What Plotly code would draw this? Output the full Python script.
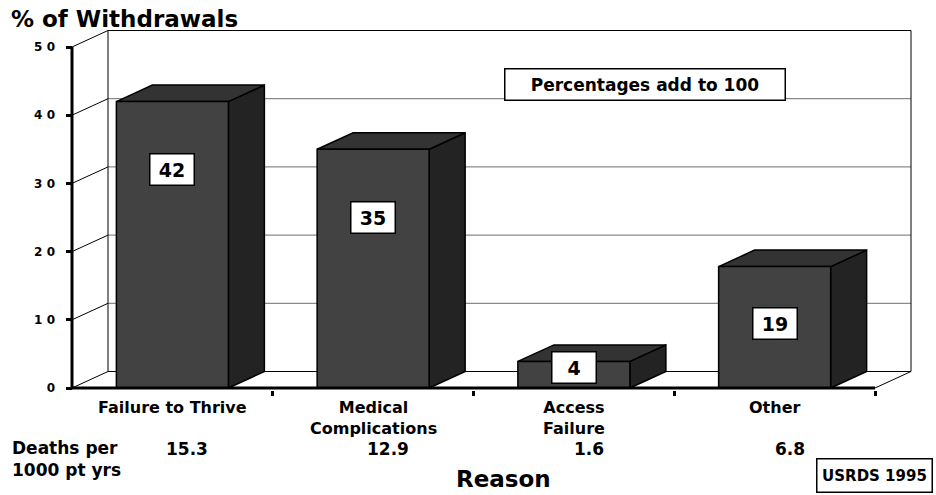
import plotly.graph_objects as go

# ---------------- data ----------------
categories = ["Failure to Thrive", "Medical<br>Complications", "Access<br>Failure", "Other"]
pct_heights = [42, 35, 3.9, 17.8]          # bar heights as drawn
pct_labels = ["42", "35", "4", "19"]        # printed labels
deaths_per_1000 = ["15.3", "12.9", "1.6", "6.8"]
y_tick_vals = [0, 10, 20, 30, 40, 50]
y_tick_text = ["0", "1 0", "2 0", "3 0", "4 0", "5 0"]

# ---------------- geometry ----------------
W, H = 936, 495
L, R, T, B = 66, 915, 29, 390           # plot area in pixels
SX = 200.75                              # px per category
SY = 6.82                                # px per percent unit
X_MIN = -0.5 - 6 / SX
X_MAX = X_MIN + (R - L) / SX
Y_MIN = -2 / SY
Y_MAX = Y_MIN + (B - T) / SY
DX = 36 / SX                             # depth offset (x)
DY = 16.5 / SY                           # depth offset (y)
BW = 112 / SX                            # bar width
N = len(categories)
XF0, XF1 = -0.5, N - 0.5                 # front axis extent
XW0, XW1 = XF0 + DX, XF1 + DX            # back wall extent
YTOP = max(y_tick_vals)

def px(xp):
    return (xp - L) / (R - L)

def py(yp):
    return (B - yp) / (B - T)

FONT = "DejaVu Sans"
BLACK = "#000000"

fig = go.Figure()

def line_trace(xs, ys, color=BLACK, width=1):
    fig.add_trace(go.Scatter(x=xs, y=ys, mode="lines",
                             line=dict(color=color, width=width),
                             hoverinfo="skip", showlegend=False))

# back wall gridlines
gx, gy = [], []
for v in y_tick_vals[1:-1]:
    gx += [XW0, XW1, None]
    gy += [v + DY, v + DY, None]
line_trace(gx, gy, color="#6e6e6e", width=1)

# back wall frame (floor, top, edges) and left diagonals
fx, fy = [], []
for v in (y_tick_vals[0], YTOP):
    fx += [XW0, XW1, None]
    fy += [v + DY, v + DY, None]
fx += [XW0, XW0, None, XW1, XW1, None]
fy += [DY, YTOP + DY, None, DY, YTOP + DY, None]
for v in y_tick_vals:
    fx += [XF0, XW0, None]
    fy += [v, v + DY, None]
fx += [XF1, XW1, None]
fy += [0, DY, None]
line_trace(fx, fy, color=BLACK, width=1)

# 3D bars
FRONT, TOP, SIDE = "#424242", "#333333", "#232323"
for i, v in enumerate(pct_heights):
    x0, x1 = i - BW / 2, i + BW / 2
    faces = [
        ([x1, x1 + DX, x1 + DX, x1, x1], [0, DY, v + DY, v, 0], SIDE),
        ([x0, x0 + DX, x1 + DX, x1, x0], [v, v + DY, v + DY, v, v], TOP),
        ([x0, x1, x1, x0, x0], [0, 0, v, v, 0], FRONT),
    ]
    for xs, ys, col in faces:
        fig.add_trace(go.Scatter(x=xs, y=ys, mode="lines", fill="toself",
                                 fillcolor=col, line=dict(color=BLACK, width=1.5),
                                 hoverinfo="skip", showlegend=False))

# front axes
line_trace([XF0, XF0, XF1], [YTOP, 0, 0], color=BLACK, width=3)

annotations = []

# value labels in white boxes
for i, (v, lab) in enumerate(zip(pct_heights, pct_labels)):
    if v > 20:
        ly = v - 10
    elif v > 10:
        ly = v * 0.53
    else:
        ly = v * 0.78
    annotations.append(dict(x=i, y=ly, xref="x", yref="y", text=f"<b>{lab}</b>",
                            showarrow=False, font=dict(family=FONT, size=19, color=BLACK),
                            bgcolor="white", bordercolor=BLACK, borderwidth=1.5,
                            borderpad=2, width=39, height=26, xanchor="center",
                            yanchor="middle"))

# category labels
for i, c in enumerate(categories):
    annotations.append(dict(x=i, y=py(396), xref="x", yref="paper", text=f"<b>{c}</b>",
                            showarrow=False, font=dict(family=FONT, size=16, color=BLACK),
                            xanchor="center", yanchor="top", align="center"))

# deaths per 1000 row
for i, d in enumerate(deaths_per_1000):
    annotations.append(dict(x=i, y=py(449), xref="x", yref="paper", text=f"<b>{d}</b>",
                            xshift=15, showarrow=False,
                            font=dict(family=FONT, size=17, color=BLACK),
                            xanchor="center", yanchor="middle"))
annotations.append(dict(x=px(10), y=py(459), xref="paper", yref="paper",
                        text="<b>Deaths per<br>1000 pt yrs</b>", showarrow=False,
                        font=dict(family=FONT, size=17, color=BLACK),
                        xanchor="left", yanchor="middle", align="left"))

# titles
annotations.append(dict(x=px(9), y=py(19), xref="paper", yref="paper",
                        text="<b>% of Withdrawals</b>", showarrow=False,
                        font=dict(family=FONT, size=23, color=BLACK),
                        xanchor="left", yanchor="middle"))
annotations.append(dict(x=px(503), y=py(479), xref="paper", yref="paper",
                        text="<b>Reason</b>", showarrow=False,
                        font=dict(family=FONT, size=23, color=BLACK),
                        xanchor="center", yanchor="middle"))

# boxed notes
annotations.append(dict(x=px(644.5), y=py(84), xref="paper", yref="paper",
                        text="<b>Percentages add to 100</b>", showarrow=False,
                        font=dict(family=FONT, size=17, color=BLACK),
                        bgcolor="white", bordercolor=BLACK, borderwidth=1.5, borderpad=2,
                        width=275, height=26, xanchor="center", yanchor="middle"))
annotations.append(dict(x=px(874), y=py(475.5), xref="paper", yref="paper",
                        text="<b>USRDS 1995</b>", showarrow=False,
                        font=dict(family=FONT, size=15, color=BLACK),
                        bgcolor="white", bordercolor=BLACK, borderwidth=1.5, borderpad=2,
                        width=110, height=28, xanchor="center", yanchor="middle"))

fig.update_layout(
    width=W, height=H, autosize=False,
    margin=dict(l=L, r=W - R, t=T, b=H - B, pad=0),
    paper_bgcolor="white", plot_bgcolor="white",
    showlegend=False,
    xaxis=dict(range=[X_MIN, X_MAX], showgrid=False, zeroline=False, showline=False,
               tickmode="array", tickvals=[k + 0.5 for k in range(N)],
               ticks="outside", ticklen=5, tickwidth=3, tickcolor=BLACK,
               showticklabels=False, fixedrange=True),
    yaxis=dict(range=[Y_MIN, Y_MAX], showgrid=False, zeroline=False, showline=False,
               tickmode="array", tickvals=y_tick_vals, ticktext=y_tick_text,
               ticks="inside", ticklen=6, tickwidth=3, tickcolor=BLACK,
               ticklabelstandoff=10,
               tickfont=dict(family=FONT, size=12, color=BLACK, weight="bold"),
               fixedrange=True),
    annotations=annotations,
)

fig.write_html("out.html")
